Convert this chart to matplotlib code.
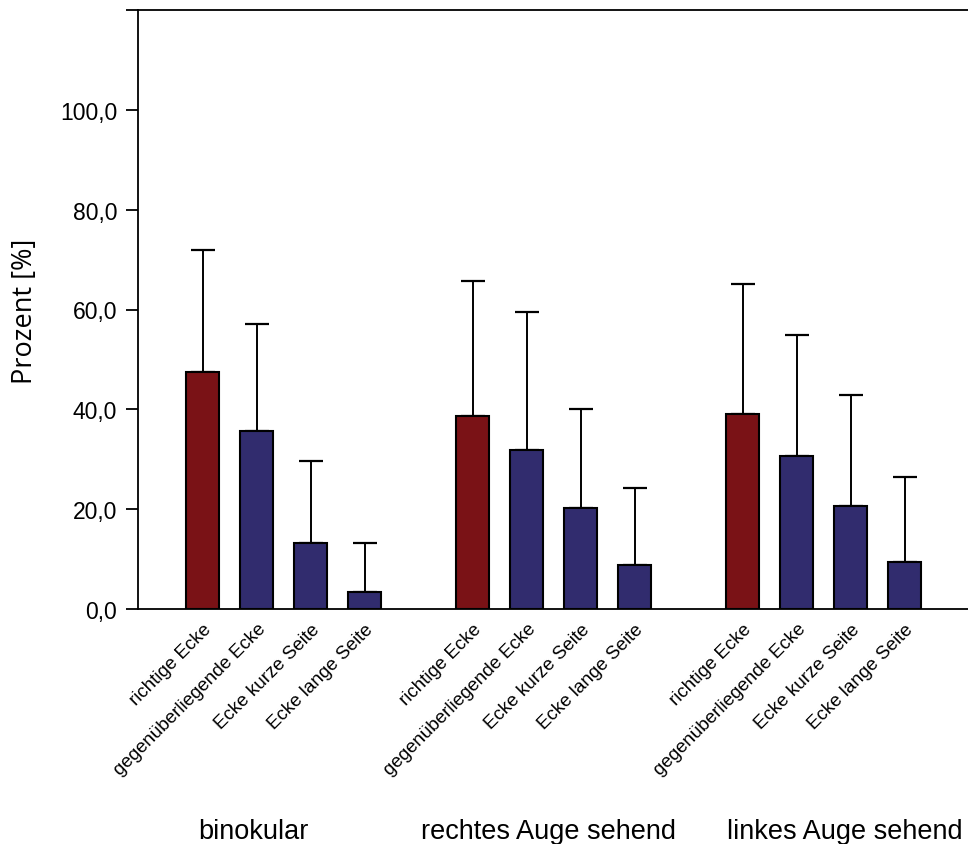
import matplotlib
matplotlib.use("Agg")
import matplotlib.pyplot as plt
import numpy as np

plt.rcParams['font.family'] = ['Liberation Sans', 'DejaVu Sans']

groups = ["binokular", "rechtes Auge sehend", "linkes Auge sehend"]
categories = ["richtige Ecke", "gegenüberliegende Ecke", "Ecke kurze Seite", "Ecke lange Seite"]

# mean percentages per group (order as in categories)
means_binokular = [47.4, 35.7, 13.2, 3.5]
means_rechts = [38.7, 31.9, 20.3, 8.9]
means_links = [39.1, 30.6, 20.7, 9.4]

# upper end of the error bars
upper_binokular = [71.9, 57.1, 29.6, 13.2]
upper_rechts = [65.8, 59.5, 40.1, 24.3]
upper_links = [65.1, 54.8, 42.8, 26.5]

yticks = [0, 20, 40, 60, 80, 100]

red = "#7a1216"
blue = "#312c6e"

fig = plt.figure(figsize=(9.68, 8.45), dpi=100)
W, H = 968, 845
ax = fig.add_axes([138 / W, (H - 610) / H, (W - 138) / W, (610 - 11) / H])

all_means = [means_binokular, means_rechts, means_links]
all_upper = [upper_binokular, upper_rechts, upper_links]

positions = []
labels = []
for g, (m, u) in enumerate(zip(all_means, all_upper)):
    x = np.arange(len(categories)) + g * (len(categories) + 1)
    colors = [red] + [blue] * (len(categories) - 1)
    err = np.array(u) - np.array(m)
    ax.bar(x, m, width=0.61, color=colors, edgecolor="black", linewidth=1.5, zorder=2)
    ax.errorbar(x, m, yerr=[np.zeros_like(err), err], fmt="none", ecolor="black",
                elinewidth=1.4, capsize=8.5, capthick=1.6, zorder=1)
    positions.extend(x)
    labels.extend(categories)

ax.set_xlim(-1.2, 14.17)
ax.set_ylim(0, 120)

ax.set_yticks(yticks + [120])
ax.set_yticklabels([f"{v:.1f}".replace(".", ",") for v in yticks] + [""], fontsize=16.5)
ax.tick_params(axis="y", direction="out", length=9, width=1.3, pad=6)

ax.set_xticks(positions)
ax.set_xticklabels(labels, rotation=45, ha="right", rotation_mode="anchor", fontsize=13.5)
ax.tick_params(axis="x", length=0, pad=8)

ax.spines["right"].set_visible(False)
for s in ["left", "top", "bottom"]:
    ax.spines[s].set_linewidth(1.3)

ax.set_ylabel("Prozent [%]", fontsize=19.5, family=["Open Sans", "DejaVu Sans"])
ax.yaxis.set_label_coords(-(138 - 39) / (W - 138), (610 - 311) / (610 - 11))

group_x = [253, 548.5, 845]
for gx, name in zip(group_x, groups):
    fig.text(gx / W, (H - 832) / H, name, ha="center", va="center", fontsize=19.5)

fig.savefig("out.png", dpi=100, facecolor="white")
